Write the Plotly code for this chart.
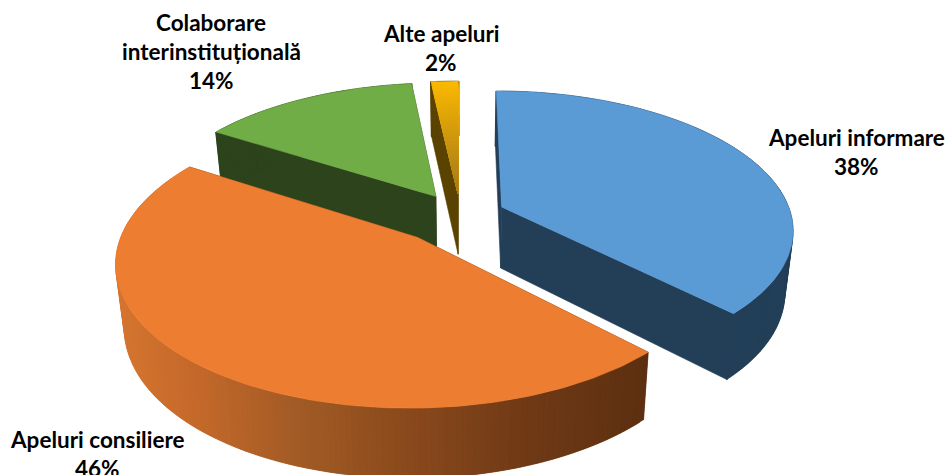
import numpy as np
import plotly.graph_objects as go

# --- data ---
categories = ["Apeluri informare", "Apeluri consiliere", "Colaborare interinstituțională", "Alte apeluri"]
values = [37.55, 46.4, 14.25, 1.8]
label_lines = [["Apeluri informare"], ["Apeluri consiliere"], ["Colaborare", "interinstituțională"], ["Alte apeluri"]]

# --- style ---
top_colors = ["#5B9BD5", "#ED7D31", "#70AD47", "#FFC000"]
wall_colors = ["#233F58", None, "#2C431C", "#5A4200"]
explode = [(0.138, 0.0), (-0.149, -0.22), (-0.092, 0.08), (-0.014, 0.10)]
label_anchor = [(856, 137.5), (97, 439.5), (211, 22.5), (441, 33.5)]
LINE_GAP = 29
W, H = 946, 475
CX, CY, RX, RY, K = 462, 207, 287, 133.9, 0.154
DEPTH, DEPTH_POW, BOTTOM_SHRINK = 61, 0.67, 0.975
ORANGE_X = [110, 190, 300, 400, 520, 650]
ORANGE_RGB = [(214, 118, 48), (196, 105, 42), (160, 90, 37), (139, 74, 28), (112, 58, 22), (92, 47, 16)]


def project(X, Y, bottom=False):
    X, Y = np.asarray(X, float), np.asarray(Y, float)
    s = 1 / (1 + K * Y)
    x = CX + RX * X * s
    y = CY - RY * Y * s
    if bottom:
        x = CX + (x - CX) * BOTTOM_SHRINK
        y = y + DEPTH * s ** DEPTH_POW
    return x, y


def poly(fig, x, y, color, width=0.6):
    fig.add_trace(go.Scatter(x=list(x) + [x[0]], y=list(y) + [y[0]], mode="lines", fill="toself",
                             fillcolor=color, line=dict(color=color, width=width),
                             hoverinfo="skip", showlegend=False))


def rgb(c):
    return "rgb(%d,%d,%d)" % tuple(int(round(v)) for v in c)


fig = go.Figure()
fractions = np.array(values) / sum(values)
ends = np.cumsum(fractions) * 2 * np.pi
starts = np.r_[0, ends[:-1]]

for i in [3, 2, 0, 1]:  # back to front
    ox, oy = explode[i]
    th = np.linspace(starts[i], ends[i], max(6, int(np.degrees(ends[i] - starts[i]))))
    rimX, rimY = ox + np.sin(th), oy + np.cos(th)
    # straight walls
    for t in (starts[i], ends[i]):
        eX, eY = np.array([ox, ox + np.sin(t)]), np.array([oy, oy + np.cos(t)])
        xt, yt = project(eX, eY)
        xb, yb = project(eX, eY, True)
        c = wall_colors[i] or rgb(ORANGE_RGB[-1])
        poly(fig, [xt[0], xt[1], xb[1], xb[0]], [yt[0], yt[1], yb[1], yb[0]], c)
    # outer wall, as overlapping bands so that nothing shows through the joins
    xt, yt = project(rimX, rimY)
    xb, yb = project(rimX, rimY, True)
    for j in range(len(th) - 1):
        e = min(j + 3, len(th))
        if wall_colors[i]:
            col = wall_colors[i]
        else:
            xm = xt[:j + 2].min()
            col = rgb([np.interp(xm, ORANGE_X, [c[n] for c in ORANGE_RGB]) for n in range(3)])
        poly(fig, np.r_[xt[j:e], xb[j:e][::-1]], np.r_[yt[j:e], yb[j:e][::-1]], col, width=0.3)
    if wall_colors[i]:
        for j in (0, -1):
            fig.add_trace(go.Scatter(x=[xt[j], xb[j]], y=[yt[j], yb[j]], mode="lines",
                                     line=dict(color=wall_colors[i], width=1.6),
                                     hoverinfo="skip", showlegend=False))
    # top face
    if i == 3:
        bands = np.linspace(1, 0, 31)
        tt = np.linspace(starts[i], ends[i], 5)
        for a in bands[:-1]:
            xc, yc = project(ox + a * np.sin(tt), oy + a * np.cos(tt))
            xa, ya = project(ox, oy)
            col = (165 + 85 * a, 120 + 65 * a, 25 - 25 * a)
            poly(fig, np.r_[xa, xc], np.r_[ya, yc], rgb(col), width=0.2)
    else:
        xa, ya = project(ox, oy)
        poly(fig, np.r_[xa, xt], np.r_[ya, yt], top_colors[i])

for i, lines in enumerate(label_lines):
    ax, ay = label_anchor[i]
    for n, txt in enumerate(lines + ["%d%%" % round(fractions[i] * 100)]):
        fig.add_annotation(x=ax, y=ay + n * LINE_GAP, text="<b>%s</b>" % txt, showarrow=False,
                           xanchor="center", yanchor="middle", xref="x", yref="y",
                           font=dict(family="Lato, Carlito, sans-serif", size=22.5, color="#000000"))

fig.update_layout(width=W, height=H, margin=dict(l=0, r=0, t=0, b=0), paper_bgcolor="white",
                  plot_bgcolor="white", showlegend=False,
                  xaxis=dict(range=[0, W], visible=False, fixedrange=True),
                  yaxis=dict(range=[H, 0], visible=False, fixedrange=True))
fig.write_html("out.html", config={"displayModeBar": False},
               post_script="document.body.style.margin='0';document.body.style.overflow='hidden';")
